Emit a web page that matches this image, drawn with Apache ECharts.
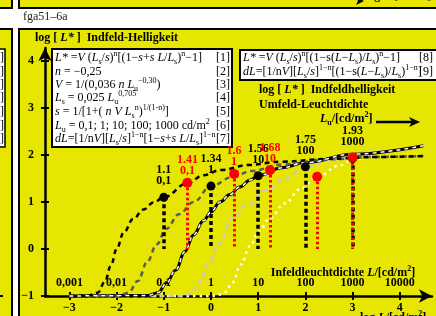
<!DOCTYPE html>
<html>
<head>
<meta charset="utf-8">
<script src="https://cdn.jsdelivr.net/npm/echarts@6/dist/echarts.min.js"></script>
<style>
  html, body { margin: 0; padding: 0; background: #fff; }
  #chart { width: 436px; height: 316px; }
</style>
</head>
<body>
<div id="chart"></div>
<script>
// axis ticks and labels
const xTicks = [-3, -2, -1, 0, 1, 2, 3, 4];
const xTickLabels = ['−3', '−2', '−1', '0', '1', '2', '3', '4'];
const lumLabels = ['0,001', '0,01', '0,1', '1', '10', '100', '1000', '10000'];
const yTicks = [-1, 0, 1, 2, 3, 4];
const yTickLabels = ['−1', '0', '1', '2', '3', '4'];

// curves, one per surround luminance Lu
const curveLu01 = [[-3,-1],[-2.6,-0.99],[-2.4,-0.93],[-2.25,-0.7],[-2.12,-0.35],[-2.0,0.0],[-1.85,0.35],[-1.65,0.64],[-1.43,0.84],[-1.22,0.99],[-1.0,1.1],[-0.5,1.4],[-0.16,1.57],[0.2,1.68],[0.8,1.79],[1.5,1.86],[2.5,1.92],[3.5,1.96],[4.5,1.98]];
const curveLu1 = [[-3,-1],[-1.95,-0.99],[-1.75,-0.93],[-1.55,-0.68],[-1.35,-0.27],[-1.15,0.1],[-0.95,0.43],[-0.68,0.74],[-0.37,1.0],[0,1.34],[0.47,1.54],[0.85,1.66],[1.5,1.8],[2.5,1.91],[3.5,1.96],[4.5,1.98]];
const curveLu10 = [[-3,-1],[-1.35,-0.99],[-1.12,-0.93],[-0.94,-0.72],[-0.75,-0.45],[-0.55,-0.05],[-0.37,0.3],[-0.16,0.6],[0,0.79],[0.19,1.0],[0.4,1.16],[0.61,1.32],[0.83,1.47],[1.0,1.56],[1.5,1.73],[2.0,1.84],[3.0,2.02],[4.5,2.2]];
const curveLu100 = [[-3,-1],[-0.6,-1],[-0.42,-0.95],[-0.22,-0.68],[-0.05,-0.3],[0.15,0.1],[0.47,0.66],[0.8,0.96],[1.18,1.26],[1.53,1.48],[2.0,1.75],[2.6,1.91],[3.4,2.07],[4.5,2.2]];
const curveLu1000 = [[-3,-1],[0.1,-1],[0.3,-0.92],[0.45,-0.72],[0.63,-0.33],[0.83,0.06],[1.0,0.36],[1.25,0.66],[1.56,0.97],[1.9,1.28],[2.25,1.54],[2.73,1.78],[3.0,1.9],[3.6,2.07],[4.5,2.2]];

// marked points
const blackDots = [[-1, 1.1], [0, 1.34], [1, 1.56], [2, 1.75], [3, 1.93]];
const blackTop = ['1.1', '1.34', '1.56', '1.75', '1.93'];
const blackBottom = ['0,1', '1', '10', '100', '1000'];
const redDots = [[-0.5, 1.41], [0.49, 1.6], [1.25, 1.68], [2.25, 1.54], [3, 1.95]];
const redTop = ['1.41', '1.6', '1.68', '', ''];
const redBottom = ['0,1', '1', '10', '', ''];
const dropTo = 0;

const F = "'Liberation Serif','Times New Roman',serif";
const YEL = '#e6e600';

const rich = {
  i:    { fontFamily: F, fontSize: 12, fontStyle: 'italic', lineHeight: 16, fill: '#000' },
  sup:  { fontFamily: F, fontSize: 8, lineHeight: 8, verticalAlign: 'top', fill: '#000' },
  sub:  { fontFamily: F, fontSize: 8, lineHeight: 8, verticalAlign: 'bottom', fill: '#000' },
  b:    { fontFamily: F, fontSize: 12, fontWeight: 'bold', lineHeight: 16, fill: '#000' },
  bi:   { fontFamily: F, fontSize: 12, fontWeight: 'bold', fontStyle: 'italic', lineHeight: 16, fill: '#000' },
  bsup: { fontFamily: F, fontSize: 8, fontWeight: 'bold', lineHeight: 8, verticalAlign: 'top', fill: '#000' },
  bsub: { fontFamily: F, fontSize: 8, fontWeight: 'bold', lineHeight: 8, verticalAlign: 'bottom', fill: '#000' }
};

function T(x, y, text, extra) {
  return {
    type: 'text', x: x, y: y, z: 100, silent: true,
    style: Object.assign({
      text: text, fontFamily: F, fontSize: 12, fill: '#000',
      textVerticalAlign: 'middle', lineHeight: 16, rich: rich
    }, extra || {})
  };
}
function R(x, y, w, h, fill, lw) {
  return { type: 'rect', z: -1, silent: true, shape: { x: x, y: y, width: w, height: h },
    style: { fill: fill, stroke: '#000', lineWidth: lw } };
}

const formulaRows = [58, 72, 85, 98, 112, 126, 139];
const formulas = [
  '{i|L*} ={i|V} ({i|L}{sub|s}/{i|s}){sup|n}[(1−{i|s}+{i|s L}/{i|L}{sub|s}){sup|n}−1]',
  '{i|n} = −0,25',
  '{i|V} = 1/(0,036 {i|n L}{sub|u}{sup|−0,30})',
  '{i|L}{sub|s} = 0,025 {i|L}{sub|u}{sup|0,705}',
  '{i|s} = 1/[1+( {i|n V L}{sub|s}{sup|n}){sup|1/(1-n)}]',
  '{i|L}{sub|u} = 0,1; 1; 10; 100; 1000 cd/m{sup|2}',
  '{i|dL}=[1/n{i|V}][{i|L}{sub|s}/{i|s}]{sup|1−n}[1−{i|s}+{i|s L}/{i|L}{sub|s}]{sup|1−n}'
];

const graphics = [
  R(-5, -5, 17, 13, YEL, 2),
  R(19, -5, 430, 13, YEL, 2),
  R(-5, 29, 17, 300, YEL, 2),
  R(19, 29, 430, 300, YEL, 2),
  R(-5, 49, 10, 98, '#fff', 1.5),
  R(52, 49, 180, 98, '#fff', 2),
  R(240, 50, 198, 30, '#fff', 2),
  { type: 'line', z: 5, silent: true, shape: { x1: 0, y1: 296, x2: 3, y2: 296 }, style: { stroke: '#000', lineWidth: 2 } },
  T(23, 17, 'fga51–6a', { fill: '#222' }),
  T(35, 38, '{b|log [ }{bi|L*}{b| ]  Indfeld-Helligkeit}'),
  T(259, 90, '{b|log [ }{bi|L*}{b| ]  Indfeldhelligkeit}'),
  T(259, 105, '{b|Umfeld-Leuchtdichte}'),
  T(320, 119, '{bi|L}{bsub|u}{b|/[cd/m}{bsup|2}{b|]}'),
  { type: 'line', z: 100, silent: true, shape: { x1: 376, y1: 122, x2: 412, y2: 122 }, style: { stroke: '#000', lineWidth: 2.5 } },
  { type: 'polygon', z: 100, silent: true, shape: { points: [[420, 122], [409, 117], [412, 122], [409, 127]] }, style: { fill: '#000' } },
  T(343, 273, '{b|Infeldleuchtdichte }{bi|L}{b|/[cd/m}{bsup|2}{b|]}', { textAlign: 'center' }),
  T(360, 318, '{b|log }{bi|L}{b|/[cd/m}{bsup|2}{b|]}'),
  T(365, -4, '{b|log }{bi|L}{b|/[cd/m}{bsup|2}{b|]}'),
  { type: 'polygon', z: 100, silent: true, shape: { points: [[364, 1], [356, -3], [358, 1], [356, 5]] }, style: { fill: '#000' } },
  T(243, 58, '{i|L*} ={i|V} ({i|L}{sub|s}/{i|s}){sup|n}[(1−s({i|L}−{i|L}{sub|s})/{i|L}{sub|s}){sup|n}−1]'),
  T(433, 58, '[8]', { textAlign: 'right' }),
  T(243, 72, '{i|dL}=[1/n{i|V}][{i|L}{sub|s}/{i|s}]{sup|1−n}[(1−s({i|L}−{i|L}{sub|s})/{i|L}{sub|s}){sup|1−n}]'),
  T(433, 72, '[9]', { textAlign: 'right' })
];
formulaRows.forEach(function (y, k) {
  graphics.push(T(55, y, formulas[k]));
  graphics.push(T(230, y, '[' + (k + 1) + ']', { textAlign: 'right' }));
  graphics.push(T(4, y, ']', { textAlign: 'right' }));
});

const lblFont = { fontFamily: F, fontWeight: 'bold', fontSize: 12 };

function curve(data, color, width, dash, z) {
  return {
    type: 'line', data: data, showSymbol: false, smooth: 0.4, smoothMonotone: 'x',
    clip: false, silent: true, z: z || 3,
    lineStyle: { color: color, width: width, type: dash }
  };
}

function dots(points, color, top, bottom, dropStyle, distance, size) {
  return {
    type: 'scatter', data: points, symbolSize: size, z: 10, clip: false,
    itemStyle: { color: color, opacity: 1 },
    label: {
      show: true, position: 'top', distance: distance, color: color,
      fontFamily: F, fontWeight: 'bold', fontSize: 12, lineHeight: 11,
      formatter: function (p) { return top[p.dataIndex] ? top[p.dataIndex] + '\n' + bottom[p.dataIndex] : ''; }
    },
    markLine: {
      silent: true, symbol: 'none', animation: false, label: { show: false },
      lineStyle: dropStyle,
      data: points.map(function (p) { return [{ coord: p }, { coord: [p[0], dropTo] }]; })
    }
  };
}

const chart = echarts.init(document.getElementById('chart'));
chart.setOption({
  animation: false,
  backgroundColor: '#fff',
  graphic: graphics,
  grid: { left: 45, right: 4, top: 48, bottom: 20 },
  xAxis: [
    {
      type: 'value', min: -3.517, max: 4.683, position: 'bottom',
      splitLine: { show: false },
      axisLine: { onZero: false, symbol: ['none', 'arrow'], symbolSize: [10, 13], lineStyle: { color: '#000', width: 2.5 } },
      axisTick: { customValues: xTicks, length: 4, lineStyle: { color: '#000', width: 2 } },
      axisLabel: Object.assign({ customValues: xTicks, margin: 6, color: '#000',
        formatter: function (v) { return xTickLabels[xTicks.indexOf(Math.round(v))]; } }, lblFont)
    },
    {
      type: 'value', min: -3.517, max: 4.683, position: 'bottom',
      splitLine: { show: false },
      axisLine: { show: false, onZero: false },
      axisTick: { customValues: xTicks, inside: true, length: 4, lineStyle: { color: '#000', width: 2 } },
      axisLabel: Object.assign({ customValues: xTicks, inside: true, margin: 7, color: '#000',
        formatter: function (v) { return lumLabels[xTicks.indexOf(Math.round(v))]; } }, lblFont)
    }
  ],
  yAxis: [
    {
      type: 'value', min: -1, max: 4.28, position: 'left',
      splitLine: { show: false },
      axisLine: { onZero: false, symbol: ['none', 'arrow'], symbolSize: [10, 13], lineStyle: { color: '#000', width: 2.5 } },
      axisTick: { customValues: yTicks, length: 4, lineStyle: { color: '#000', width: 2 } },
      axisLabel: Object.assign({ customValues: yTicks, margin: 11, color: '#000',
        formatter: function (v) { return yTickLabels[yTicks.indexOf(Math.round(v))]; } }, lblFont)
    },
    {
      type: 'value', min: -1, max: 4.28, position: 'left',
      splitLine: { show: false },
      axisLine: { show: false, onZero: false },
      axisTick: { customValues: yTicks, inside: true, length: 4, lineStyle: { color: '#000', width: 2 } },
      axisLabel: { show: false }
    }
  ],
  series: [
    curve(curveLu1000, '#ffffff', 2.5, [2.5, 4]),
    curve(curveLu100, '#c8c8c8', 2.5, [5, 4]),
    curve(curveLu10, '#000000', 3, 'solid'),
    curve(curveLu10, '#ffffff', 1.5, [4, 4], 4),
    curve(curveLu1, '#5a5a5a', 2.5, [5, 4]),
    curve(curveLu01, '#000000', 2.5, [5, 4]),
    dots(blackDots, '#000', blackTop, blackBottom, { color: '#000', width: 3.5, type: [4, 3] }, 6, 9),
    dots(redDots, '#ff0000', redTop, redBottom, { color: '#ff0000', width: 3, type: [2.5, 2.5] }, 1, 10)
  ]
});
window.addEventListener('resize', function () { chart.resize(); });
</script>
</body>
</html>
